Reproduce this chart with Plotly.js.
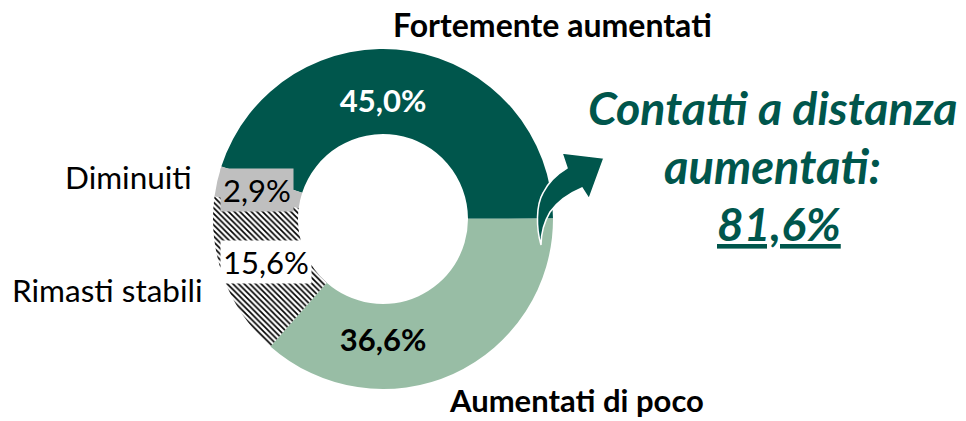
<!DOCTYPE html>
<html>
<head>
<meta charset="utf-8">
<script src="https://cdn.plot.ly/plotly-3.0.1.min.js"></script>
<style>html,body{margin:0;padding:0;background:#fff;}#chart{width:966px;height:421px;}</style>
</head>
<body>
<div id="chart"></div>
<script>
// Data
const categories = ["Fortemente aumentati", "Aumentati di poco", "Rimasti stabili", "Diminuiti"];
const values = [45.0, 36.6, 15.6, 2.9];
const valueLabels = ["45,0%", "36,6%", "15,6%", "2,9%"];
const totalLabel = "81,6%";
const calloutLines = ["Contatti a distanza", "aumentati:"];

const DARK = "#00564C";
const LIGHT = "#98BDA5";
const GREY = "#BFBFBF";
const FONT = "Lato, 'Open Sans', sans-serif";

const W = 966, H = 421;
const cx = 383, cy = 219, R = 170;

const pie = {
  type: "pie",
  labels: categories,
  values: values,
  sort: false,
  direction: "clockwise",
  rotation: -72,
  hole: 0.5,
  domain: {x: [(cx - R) / W, (cx + R) / W], y: [1 - (cy + R) / H, 1 - (cy - R) / H]},
  marker: {
    colors: [DARK, LIGHT, "#FFFFFF", GREY],
    line: {width: 0},
    pattern: {shape: ["", "", "\\", ""], fgcolor: "#000000", size: 4, solidity: 0.42, fillmode: "replace"}
  },
  text: [valueLabels[0], valueLabels[1], "", ""],
  texttemplate: "%{text}",
  textposition: "inside",
  insidetextorientation: "horizontal",
  textfont: {family: FONT, size: 31, weight: "bold", color: ["#FFFFFF", "#000000", "#000000", "#000000"]},
  hoverinfo: "none",
  showlegend: false
};

// helper trace to establish a pixel-aligned hidden axis for decoration shapes
const helper = {type: "scatter", x: [0, W], y: [0, H], mode: "markers", marker: {opacity: 0}, hoverinfo: "none", showlegend: false};

const arrowPath = "M 541 245 C 536 228, 536 205, 543 193 C 549 181, 557 174, 567 168 L 562 153 L 604 158 L 589 199 L 582 188 C 570 193, 558 201, 550 212 C 544 222, 541 235, 541 245 Z";

const annotations = [
  {x: 552, y: 24, text: categories[0], font: {family: FONT, size: 32, weight: "bold", color: "#000"}},
  {x: 576, y: 400, text: categories[1], borderpad: 0, font: {family: FONT, size: 31, weight: "bold", color: "#000"}},
  {x: 205, y: 290, xanchor: "right", text: categories[2], font: {family: FONT, size: 31.5, color: "#000"}},
  {x: 194, y: 177, xanchor: "right", text: categories[3], font: {family: FONT, size: 31.5, color: "#000"}},
  {x: 266, y: 262, text: valueLabels[2], bgcolor: "#FFFFFF", borderpad: 2, font: {family: FONT, size: 31, color: "#000"}},
  {x: 257, y: 190, text: valueLabels[3], bgcolor: GREY, borderpad: 2, font: {family: FONT, size: 31, color: "#000"}},
  {x: 773, y: 107, text: calloutLines[0], font: {family: FONT, size: 46.5, weight: "bold", style: "italic", color: DARK}},
  {x: 772, y: 166, text: calloutLines[1], font: {family: FONT, size: 47, weight: "bold", style: "italic", color: DARK}},
  {x: 779, y: 223, text: totalLabel, font: {family: FONT, size: 46, weight: "bold", style: "italic", color: DARK, lineposition: "under"}}
].map(a => Object.assign({xref: "x", yref: "y", showarrow: false, xanchor: "center", yanchor: "middle"}, a));

const layout = {
  width: W, height: H,
  margin: {l: 0, r: 0, t: 0, b: 0},
  paper_bgcolor: "#FFFFFF", plot_bgcolor: "rgba(0,0,0,0)",
  xaxis: {range: [0, W], visible: false, fixedrange: true},
  yaxis: {range: [H, 0], visible: false, fixedrange: true},
  separators: ",.",
  showlegend: false,
  shapes: [{type: "path", xref: "x", yref: "y", path: arrowPath, fillcolor: DARK, line: {color: "#FFFFFF", width: 1.5}, layer: "above"}],
  annotations: annotations
};

Plotly.newPlot("chart", [helper, pie], layout, {displayModeBar: false, staticPlot: true});
</script>
</body>
</html>
